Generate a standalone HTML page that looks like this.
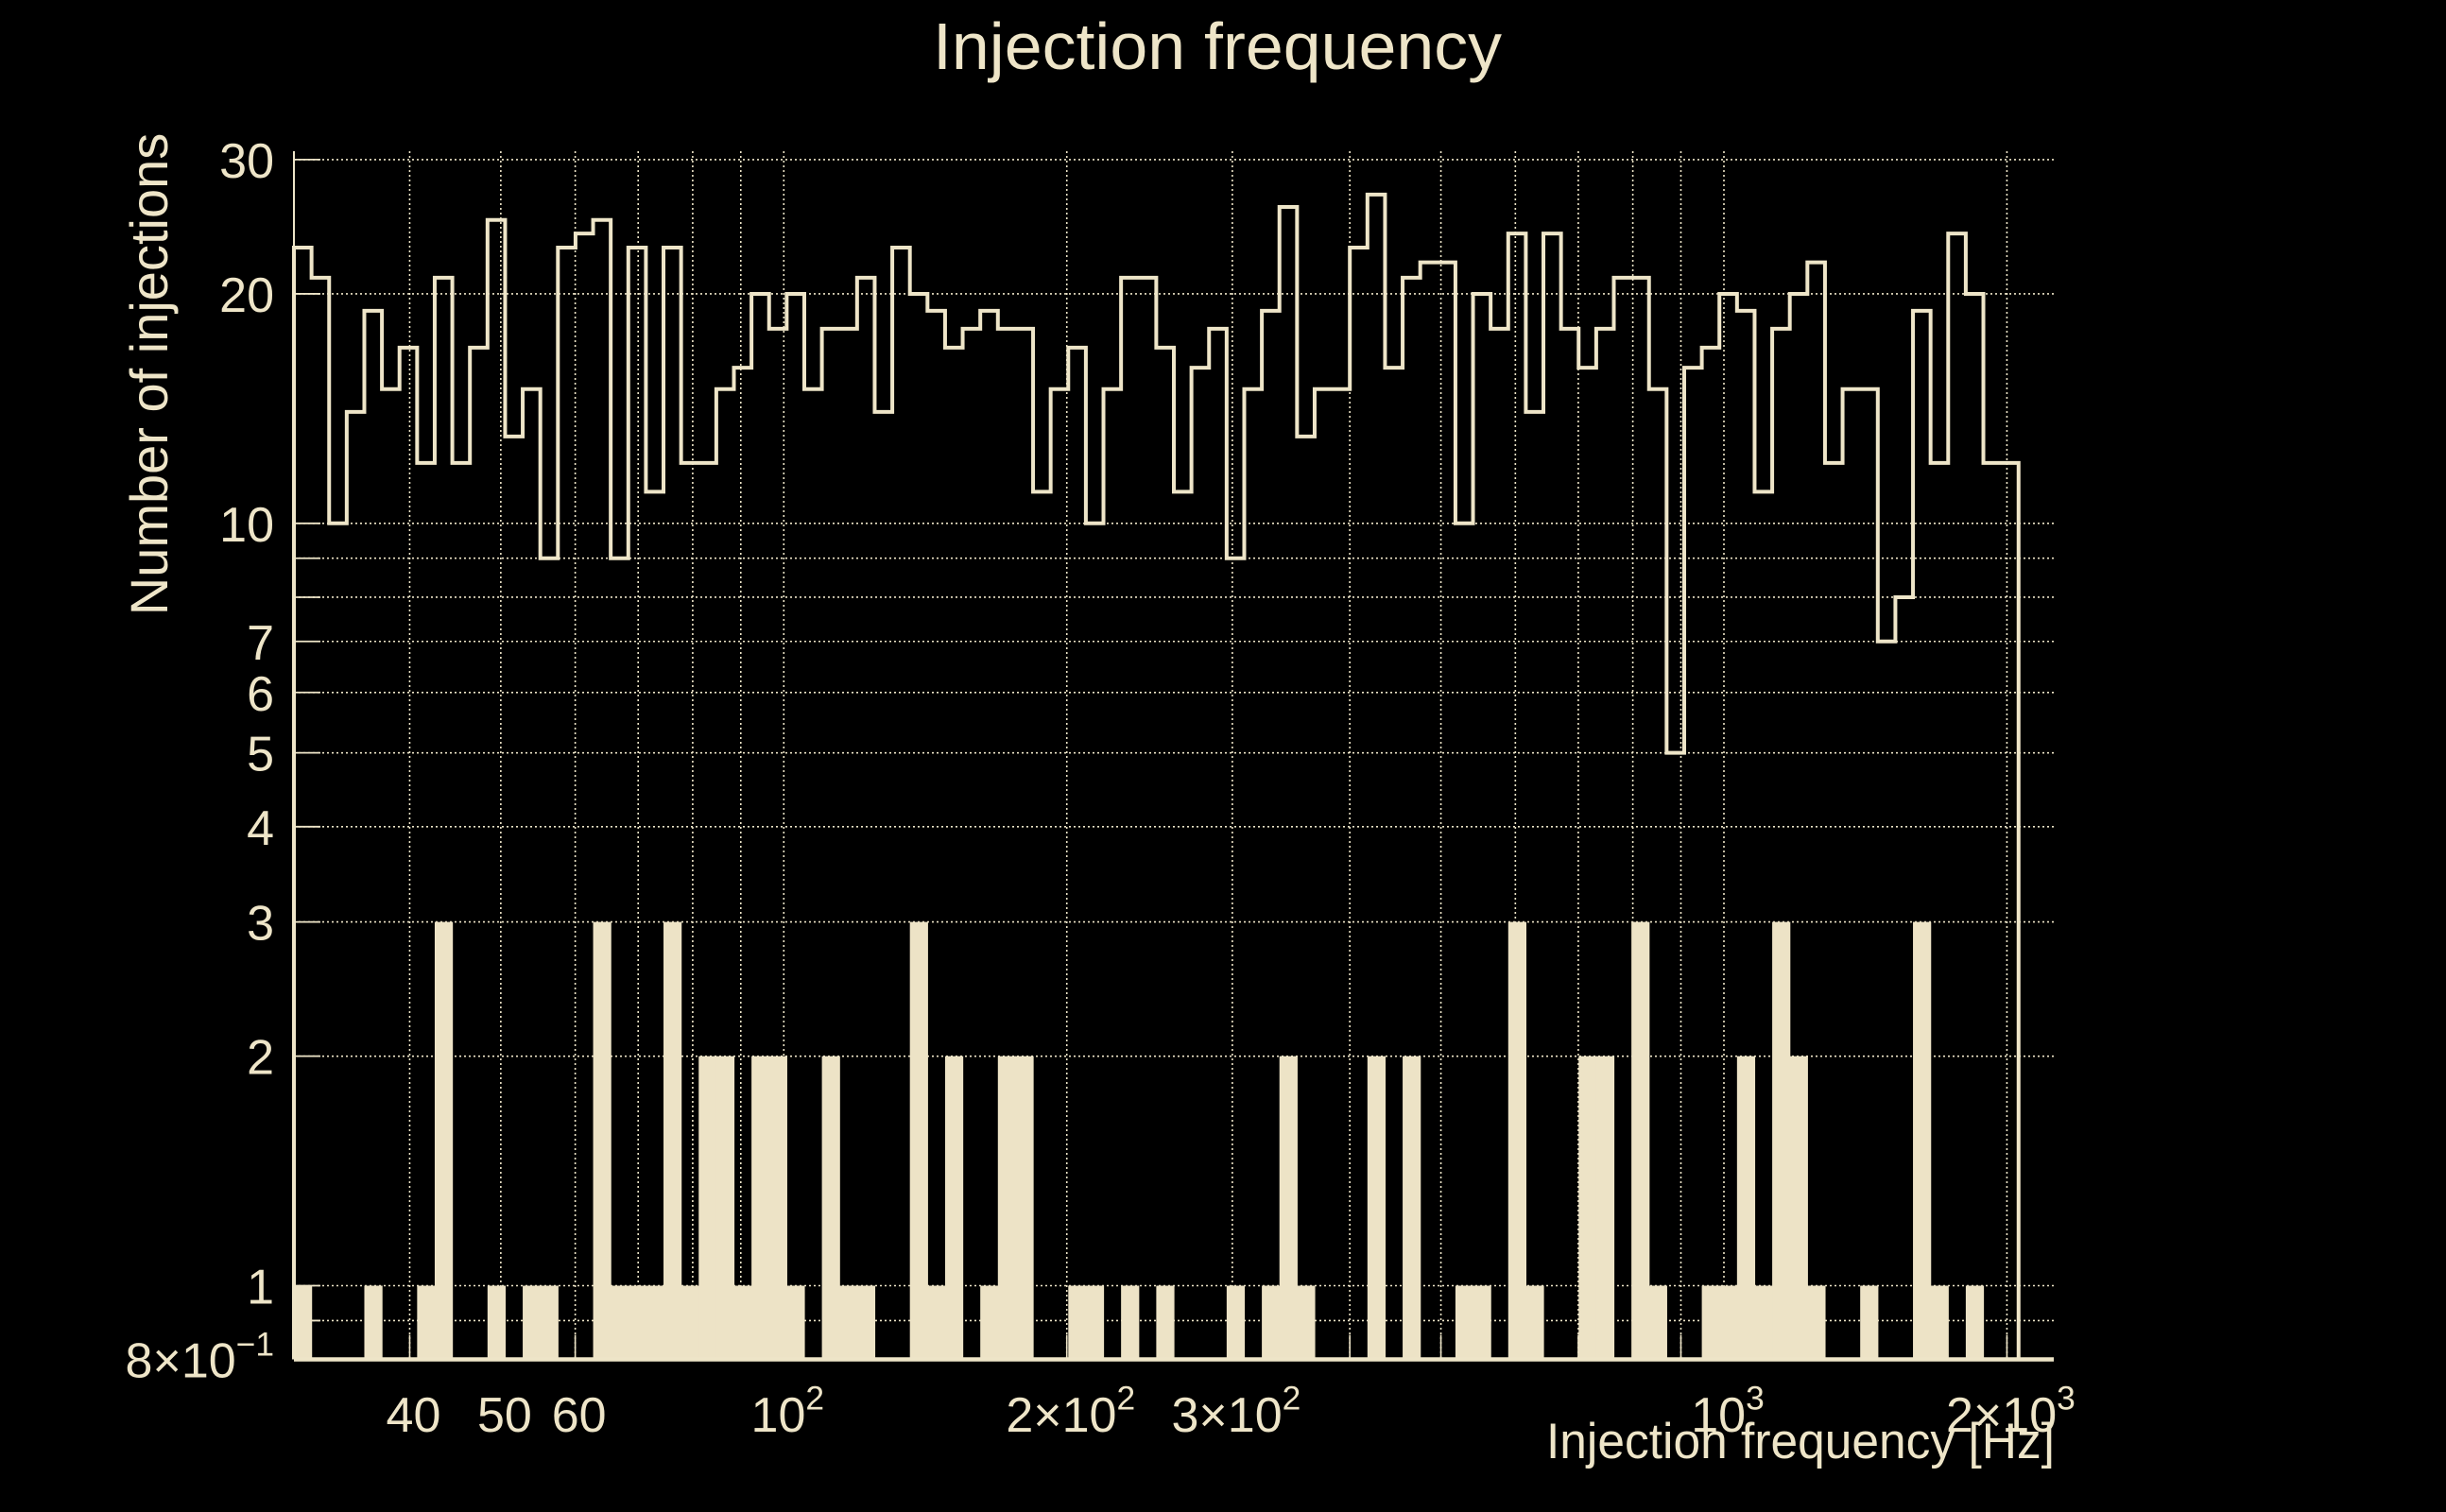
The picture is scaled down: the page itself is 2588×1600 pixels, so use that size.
<!DOCTYPE html>
<html><head><meta charset="utf-8"><title>Injection frequency</title>
<style>
html,body{margin:0;padding:0;background:#000;}
svg{display:block;}
text{font-family:"Liberation Sans",Arial,sans-serif;fill:#EEE5C8;}
</style></head>
<body>
<svg id="chart" width="2588" height="1600" viewBox="0 0 2588 1600" xmlns="http://www.w3.org/2000/svg">
<rect width="2588" height="1600" fill="#000"/>
<text x="1288" y="73" font-size="70" text-anchor="middle" textLength="602" lengthAdjust="spacingAndGlyphs">Injection frequency</text>
<text transform="translate(177,396) rotate(-90)" font-size="56" text-anchor="middle">Number of injections</text>
<text x="2174" y="1543" font-size="53" text-anchor="end" textLength="538" lengthAdjust="spacingAndGlyphs">Injection frequency [Hz]</text>
<g id="grid"></g>
<g id="marks"></g>
<g id="axes"></g>
<g id="labels"></g>
</svg>
<script>
// ---- data ----
const binCount = 100;
const totalCounts = [23,21,10,14,19,15,17,12,21,12,17,25,13,15,9,23,24,25,9,23,11,23,12,12,15,16,
20,18,20,15,18,18,21,14,23,20,19,17,18,19,18,18,11,15,17,10,15,21,21,17,11,
16,18,9,15,19,26,13,15,15,23,27,16,21,22,22,10,20,18,24,14,24,18,16,18,21,
21,15,5,16,17,20,19,11,18,20,22,12,15,15,7,8,19,12,24,20,12,12,0,0];
const subsetCounts = [1,0,0,0,1,0,0,1,3,0,0,1,0,1,1,0,0,3,1,1,1,3,1,2,2,1,
2,2,1,0,2,1,1,0,0,3,1,2,0,1,2,2,0,0,1,1,0,1,0,1,0,
0,0,1,0,1,2,1,0,0,0,2,0,2,0,0,1,1,0,3,1,0,0,2,2,0,
3,1,0,0,1,1,2,1,3,2,1,0,0,1,0,0,3,1,0,1,0,0,0,0];
const xGridValues = [40,50,60,70,80,90,100,200,300,400,500,600,700,800,900,1000,2000];
const xTickValues = [40,50,60,100,200,300,1000,2000];
const xTickLabels = [["40",""],["50",""],["60",""],["10","2"],["2\u00d710","2"],["3\u00d710","2"],["10","3"],["2\u00d710","3"]];
const yGridValues = [30,20,10,9,8,7,6,5,4,3,2,1,0.9];
const yTickValues = [30,20,10,7,6,5,4,3,2,1,0.8];
const yTickLabels = [["30",""],["20",""],["10",""],["7",""],["6",""],["5",""],["4",""],["3",""],["2",""],["1",""],["8\u00d710","\u22121"]];

// ---- axes ----
const X0 = 311, X1 = 2173, Y0 = 1438.5, YT = 160;
const xMinLog = 2 + (X0 - 829.3) / 994.7, xMaxLog = 2 + (X1 - 829.3) / 994.7;
function xScale(f){ return 829.3 + (Math.log10(f) - 2) * 994.7; }
function yScale(v){ return 1360.5 - Math.log10(v) * 806.7; }
function binEdgeX(i){ const lf = xMinLog + (xMaxLog - xMinLog) * i / binCount; return xScale(Math.pow(10, lf)); }

const NS = "http://www.w3.org/2000/svg";
const C = "#EEE5C8";
function mk(tag, parent){ const e = document.createElementNS(NS, tag); document.getElementById(parent).appendChild(e); return e; }

// grid
xGridValues.forEach(v => {
  const l = mk("line","grid");
  
  
  const x = xScale(v);
  l.setAttribute("x1", x); l.setAttribute("x2", x); l.setAttribute("y1", YT); l.setAttribute("y2", Y0);
  l.setAttribute("stroke", C); l.setAttribute("stroke-width", "1.6"); l.setAttribute("stroke-dasharray", "2,3");
  const t = mk("line","grid");
  
  
  t.setAttribute("x1", x); t.setAttribute("x2", x); t.setAttribute("y1", Y0 - 26); t.setAttribute("y2", Y0);
  t.setAttribute("stroke", C); t.setAttribute("stroke-width", "1.6");
});
yGridValues.forEach(v => {
  const l = mk("line","grid");
  
  
  const y = yScale(v);
  l.setAttribute("x1", X0); l.setAttribute("x2", X1); l.setAttribute("y1", y); l.setAttribute("y2", y);
  l.setAttribute("stroke", C); l.setAttribute("stroke-width", "1.6"); l.setAttribute("stroke-dasharray", "2,3");
  const t = mk("line","grid");
  
  
  t.setAttribute("x1", X0); t.setAttribute("x2", X0 + 28); t.setAttribute("y1", y); t.setAttribute("y2", y);
  t.setAttribute("stroke", C); t.setAttribute("stroke-width", "1.8");
});

// subset filled bars
subsetCounts.forEach((v, i) => {
  if (v <= 0) return;
  const r = mk("rect","marks");
  
  
  const xa = binEdgeX(i), xb = binEdgeX(i + 1), y = yScale(v);
  r.setAttribute("x", xa); r.setAttribute("width", xb - xa + 0.6);
  r.setAttribute("y", y); r.setAttribute("height", Y0 - y);
  r.setAttribute("fill", "#EDE3C6");
});

// total step outline
let d = "M" + binEdgeX(0) + "," + Y0;
totalCounts.forEach((v, i) => {
  const y = v > 0 ? yScale(v) : Y0;
  d += " L" + binEdgeX(i) + "," + y + " L" + binEdgeX(i + 1) + "," + y;
});
d += " L" + binEdgeX(binCount) + "," + Y0;
const p = mk("path","marks");


p.setAttribute("d", d); p.setAttribute("fill", "none"); p.setAttribute("stroke", C);
p.setAttribute("stroke-width", "4"); p.setAttribute("stroke-linejoin", "miter");

// axes lines
const ax = mk("line","axes");


ax.setAttribute("x1", X0); ax.setAttribute("x2", X1); ax.setAttribute("y1", Y0); ax.setAttribute("y2", Y0);
ax.setAttribute("stroke", C); ax.setAttribute("stroke-width", "4.5");
const ay = mk("line","axes");


ay.setAttribute("x1", X0); ay.setAttribute("x2", X0); ay.setAttribute("y1", YT); ay.setAttribute("y2", Y0);
ay.setAttribute("stroke", C); ay.setAttribute("stroke-width", "2");

// labels
function label(parent, x, y, anchor, parts, size){
  const t = mk("text", parent);
  t.setAttribute("x", x); t.setAttribute("y", y); t.setAttribute("text-anchor", anchor);
  t.setAttribute("font-size", size);
  const a = document.createElementNS(NS, "tspan"); a.textContent = parts[0]; t.appendChild(a);
  if (parts[1]) {
    const b = document.createElementNS(NS, "tspan"); b.textContent = parts[1];
    b.setAttribute("dy", -size * 0.45); b.setAttribute("font-size", size * 0.68); t.appendChild(b);
  }
  return t;
}
xTickValues.forEach((v, i) => {
  const t = label("labels", xScale(v) + 4, 1515, "middle", xTickLabels[i], 52);
  
  
});
yTickValues.forEach((v, i) => {
  const t = label("labels", 290, yScale(v) + 19, "end", yTickLabels[i], 52);
  
  
});
</script>
</body></html>
